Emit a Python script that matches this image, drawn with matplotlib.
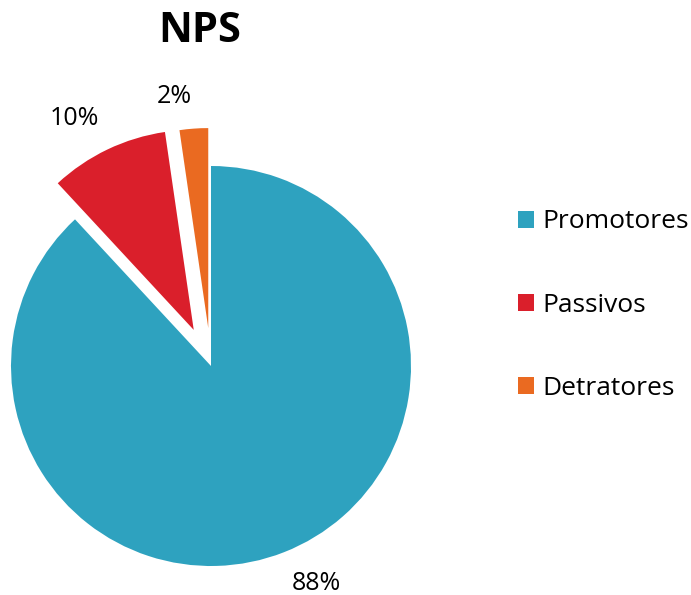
import matplotlib
matplotlib.use("Agg")
import matplotlib.pyplot as plt
import numpy as np

categories = ["Promotores", "Passivos", "Detratores"]
values = [88.1, 9.6, 2.3]
colors = ["#2EA2BF", "#DA1F2B", "#EA6A21"]
explode = [0.0, 0.2, 0.19]

plt.rcParams['font.family'] = ['Open Sans', 'DejaVu Sans']

W, H = 691, 595
fig = plt.figure(figsize=(W / 100, H / 100), dpi=100)
cx, cy, r = 211, 366, 200
ax = fig.add_axes([(cx - r) / W, (H - cy - r) / H, 2 * r / W, 2 * r / H])

wedges, texts, autotexts = ax.pie(values, colors=colors, explode=explode,
                                  startangle=90, counterclock=False,
                                  autopct='%.0f%%', pctdistance=1.1,
                                  textprops=dict(fontsize=18, color='#000000'))
ax.set_xlim(-1, 1)
ax.set_ylim(-1, 1)
ax.axis('off')

for t in autotexts:
    x, y = t.get_position()
    t.set_ha('left' if x > 0 else 'right')
    t.set_va('top' if y < 0 else 'bottom')

fig.text(200 / W, 1 - 42 / H, "NPS", ha='center', va='baseline',
         fontsize=30, fontweight='bold', color='#000000')

leg = fig.legend(wedges, categories, loc='center left',
                 bbox_to_anchor=(518 / W, 1 - 305 / H),
                 frameon=False, fontsize=19, borderpad=0, borderaxespad=0,
                 handlelength=0.6, handleheight=0.6, handletextpad=0.34,
                 labelspacing=2.2)
for txt in leg.get_texts():
    txt.set_color('#000000')

fig.savefig("out.png", dpi=100)
